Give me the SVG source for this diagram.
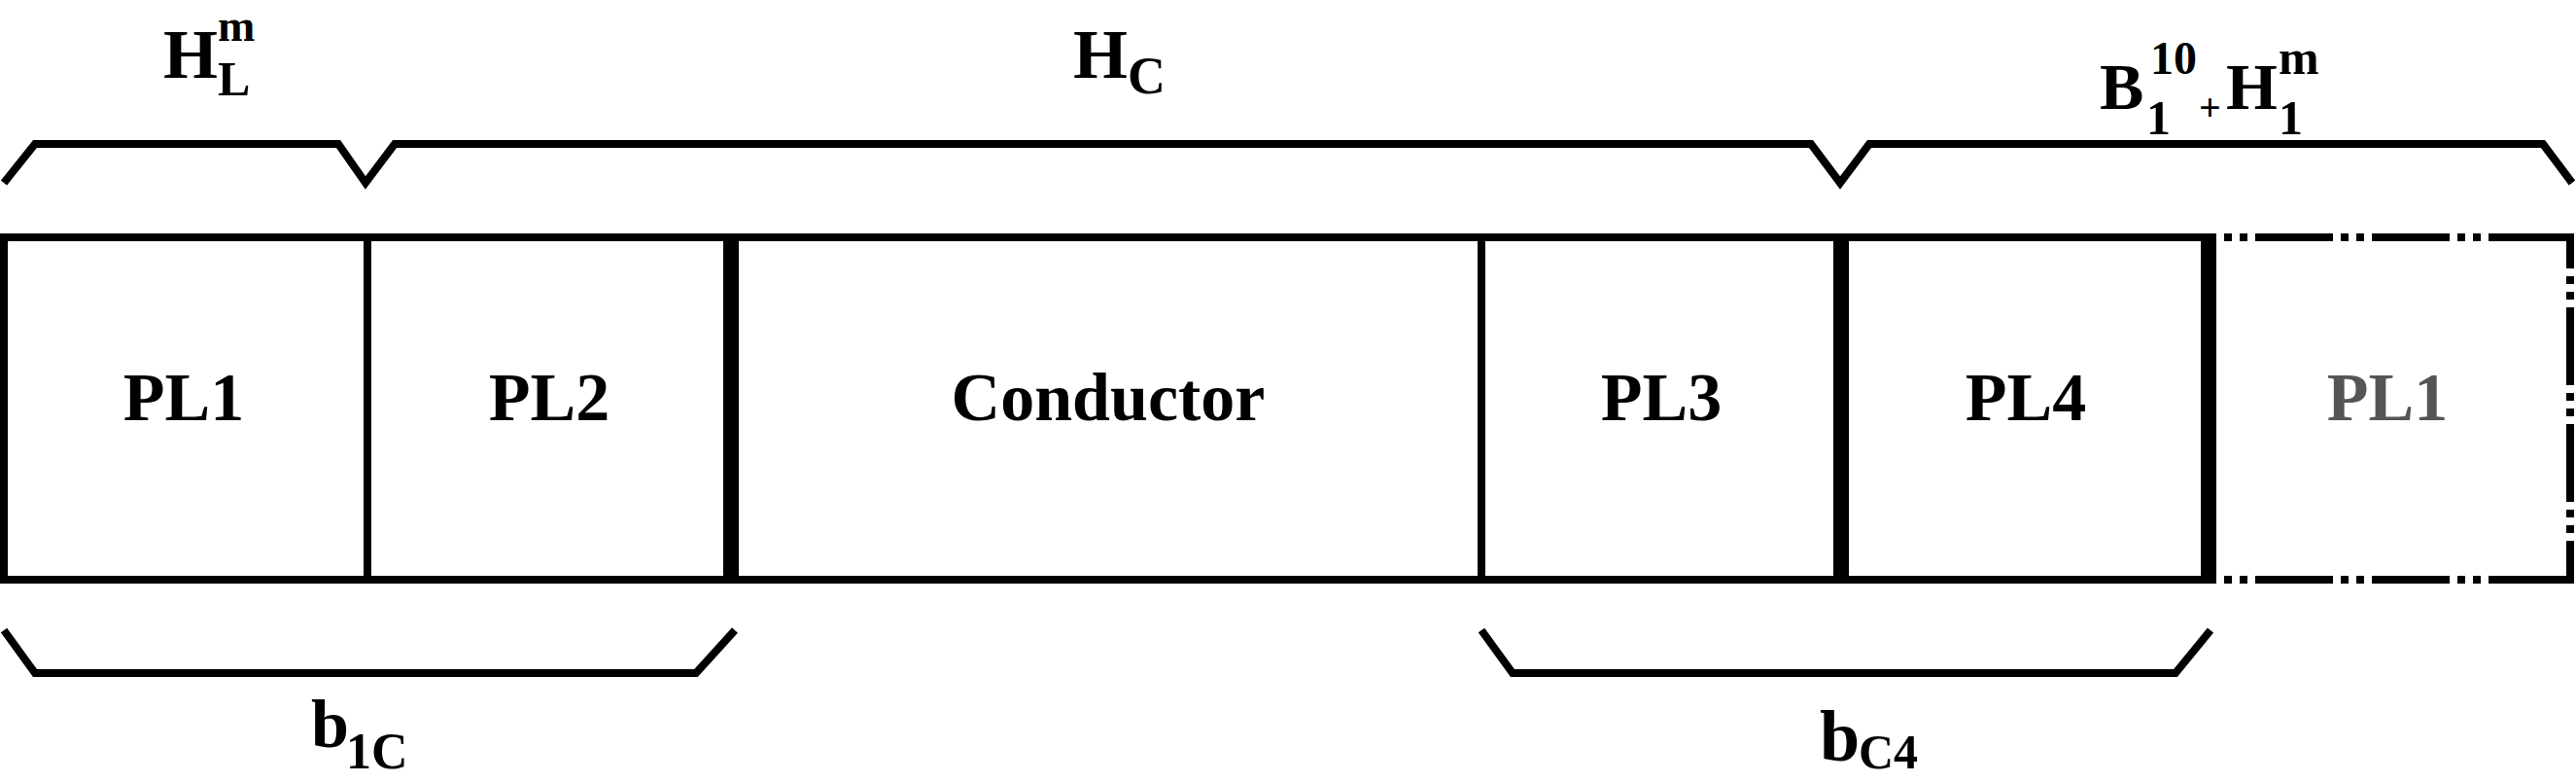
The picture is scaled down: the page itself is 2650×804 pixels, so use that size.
<svg xmlns="http://www.w3.org/2000/svg" width="2650" height="804" viewBox="0 0 2650 804">
<style>
.ln{fill:none;stroke:#000;stroke-width:8;stroke-linecap:butt;stroke-linejoin:miter}
.thick{fill:none;stroke:#000;stroke-width:16}
.dash{fill:none;stroke:#000;stroke-width:8;stroke-dasharray:80 8 8 8 8 8}
.lbl{font-family:"Liberation Serif","Times New Roman",serif;font-weight:bold;fill:#000}
.pl{font-family:"Liberation Serif","Times New Roman",serif;font-weight:bold;font-size:70px;text-anchor:middle;fill:#000}
</style>
<rect width="2650" height="804" fill="#fff"/>
<g id="connectors">
  <path class="ln" d="M4,188 L36,148 L348,148 L376,188 L406,148 L1863,148 L1893,188 L1923,148 L2616,148 L2646,188"/>
  <path class="ln" d="M4,648 L36,692 L716,692 L756,648"/>
  <path class="ln" d="M1524,648 L1556,692 L2238,692 L2274,648"/>
</g>
<g id="node-PL1">
  <path class="ln" d="M2272,244 L4,244 L4,596 L2272,596"/>
  <line class="ln" x1="378" y1="244" x2="378" y2="596"/>
  <text class="pl" x="189" y="432">PL1</text>
</g>
<g id="node-PL2">
  <line class="thick" x1="752" y1="240" x2="752" y2="600"/>
  <text class="pl" x="565" y="432">PL2</text>
</g>
<g id="node-Conductor">
  <line class="ln" x1="1524" y1="244" x2="1524" y2="596"/>
  <text class="pl" x="1140" y="432">Conductor</text>
</g>
<g id="node-PL3">
  <line class="thick" x1="1894" y1="240" x2="1894" y2="600"/>
  <text class="pl" x="1709" y="432">PL3</text>
</g>
<g id="node-PL4">
  <line class="thick" x1="2272" y1="240" x2="2272" y2="600"/>
  <text class="pl" x="2084" y="432">PL4</text>
</g>
<g id="node-PL1-repeat">
  <path class="dash" style="stroke-dashoffset:80" d="M2280,244 L2640,244"/>
  <path class="dash" style="stroke-dashoffset:80" d="M2280,596 L2640,596"/>
  <path class="dash" style="stroke-dashoffset:44" d="M2644,240 L2644,600"/>
  <text class="pl" x="2456" y="432" style="fill:#555">PL1</text>
</g>
<g id="label-HL">
  <text class="lbl" x="168" y="80" font-size="72">H</text>
  <text class="lbl" x="224" y="98" font-size="50">L</text>
  <text class="lbl" x="224" y="42" font-size="46">m</text>
</g>
<g id="label-HC">
  <text class="lbl" x="1104" y="80" font-size="72">H</text>
  <text class="lbl" x="1160" y="96" font-size="54">C</text>
</g>
<g id="label-B1H1">
  <text class="lbl" x="2160" y="112" font-size="68">B</text>
  <text class="lbl" x="2208" y="138" font-size="50">1</text>
  <text class="lbl" x="2212" y="76" font-size="48">10</text>
  <text class="lbl" x="2262" y="124" font-size="40">+</text>
  <text class="lbl" x="2290" y="112" font-size="68">H</text>
  <text class="lbl" x="2344" y="138" font-size="50">1</text>
  <text class="lbl" x="2344" y="76" font-size="50">m</text>
</g>
<g id="label-b1C">
  <text class="lbl" x="320" y="768" font-size="70">b</text>
  <text class="lbl" x="356" y="790" font-size="52">1C</text>
</g>
<g id="label-bC4">
  <text class="lbl" x="1872" y="782" font-size="74">b</text>
  <text class="lbl" x="1912" y="790" font-size="50">C4</text>
</g>
</svg>
